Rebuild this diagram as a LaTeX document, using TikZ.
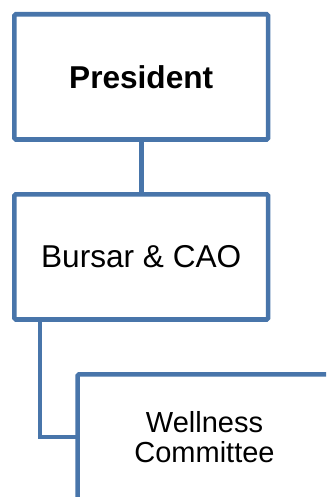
\documentclass[tikz,border=0pt]{standalone}
\usepackage{fontspec}
\setmainfont{Liberation Sans}
\definecolor{boxblue}{RGB}{72,117,170}
\begin{document}
\begin{tikzpicture}[x=1pt,y=-1pt,
  orgbox/.style={draw=boxblue, line width=4.6pt, rounded corners=1.5pt, fill=white,
    minimum width=253.7pt, minimum height=125.2pt, inner sep=0pt, outer sep=0pt, align=center},
  link/.style={draw=boxblue, line width=4.6pt}]
\useasboundingbox (0,0) rectangle (326,497);
\begin{scope}
\clip (0,0) rectangle (326,497);
\node[orgbox, font=\fontsize{31.6}{36}\selectfont\bfseries] (pres) at (141.2,76.9) {President};
\node[orgbox, font=\fontsize{31.6}{36}\selectfont] (burs) at (141.2,256.9) {Bursar \& CAO};
\node[orgbox, font=\fontsize{29}{30}\selectfont] (well) at (204.5,436.9) {Wellness\\Committee};
\coordinate (bdrop) at (40,319.5);
\draw[link] (pres.south) -- (burs.north);
\draw[link] (bdrop) |- (well.west);
\end{scope}
\end{tikzpicture}
\end{document}
